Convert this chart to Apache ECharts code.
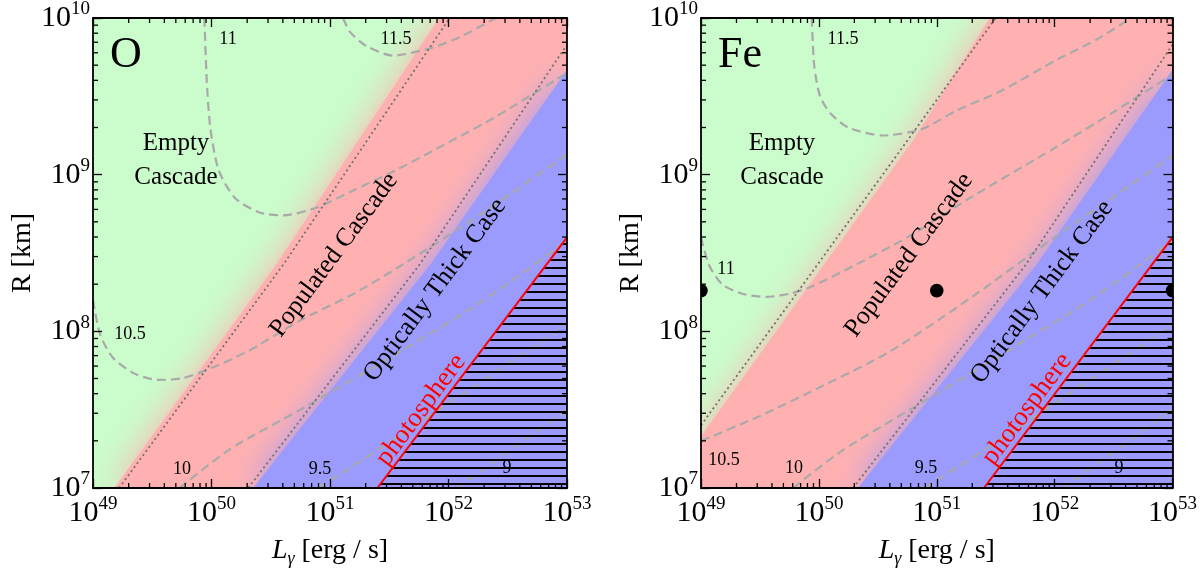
<!DOCTYPE html>
<html>
<head>
<meta charset="utf-8">
<script src="https://cdn.jsdelivr.net/npm/echarts@6/dist/echarts.min.js"></script>
<style>
html, body { margin: 0; padding: 0; background: #fff; }
#chart { width: 1200px; height: 573px; }
</style>
</head>
<body>
<div id="chart"></div>
<script>
// all positions are log10 values: x = log10(L / erg s^-1), y = log10(R / km)
var xDecades = [49, 50, 51, 52, 53];
var yDecades = [7, 8, 9, 10];
var panelNames = ['O', 'Fe'];

// ---- O panel ----
var oGreenRed = [[49.18, 7], [50.55, 8.43], [51.92, 10], [53, 10]];
var oRedBlue = [[50.35, 7], [51.85, 8.43], [53, 9.67]];
var oDotted1 = [[49.22, 7], [50.61, 8.43], [52.01, 10]];
var oDotted2 = [[50.31, 7], [51.76, 8.43], [53, 9.83]];
var oPhoto = [[51.4, 7], [53, 8.6]];
var oC115 = [[51.11, 10], [51.17, 9.91], [51.31, 9.82], [51.53, 9.76], [51.86, 9.81], [52.1, 9.88], [52.4, 10]];
var oC11 = [[49.94, 10], [49.96, 9.6], [49.99, 9.3], [50.06, 9.03], [50.2, 8.85], [50.4, 8.76], [50.6, 8.74], [50.89, 8.79], [51.17, 8.89], [51.56, 9.03], [52.01, 9.21], [52.4, 9.37], [53, 9.65]];
var oC105 = [[49.0, 8.2], [49.06, 7.98], [49.17, 7.83], [49.35, 7.73], [49.55, 7.69], [49.75, 7.7], [49.95, 7.75], [50.3, 7.87], [50.75, 8.07], [51.2, 8.24], [51.6, 8.42], [52.3, 8.76], [53, 9.13]];
var oC10 = [[49.73, 7], [50.16, 7.25], [50.75, 7.5], [51.59, 7.87], [52.32, 8.21], [53, 8.58]];
var oC95 = [[50.9, 7], [51.5, 7.29], [52.2, 7.64], [53, 8.04]];
var oC9 = [[52.07, 7], [52.5, 7.23], [53, 7.5]];

// ---- Fe panel ----
var feGreenRed = [[49, 7.33], [50.8, 9.22], [51.45, 10], [53, 10]];
var feRedBlue = [[50.33, 7], [51.85, 8.43], [53, 9.67]];
var feDotted1 = [[49, 7.4], [50.83, 9.3], [51.5, 10]];
var feDotted2 = [[50.29, 7], [51.76, 8.43], [53, 9.83]];
var fePhoto = [[51.4, 7], [53, 8.6]];
var feC115 = [[49.94, 10], [49.96, 9.7], [50.01, 9.5], [50.1, 9.39], [50.25, 9.3], [50.54, 9.25], [50.87, 9.29], [51.17, 9.41], [51.56, 9.54], [52.01, 9.73], [52.35, 9.86], [52.65, 10]];
var feC11 = [[49, 8.6], [49.07, 8.42], [49.18, 8.3], [49.35, 8.24], [49.55, 8.22], [49.75, 8.24], [49.95, 8.29], [50.3, 8.42], [50.75, 8.6], [51.3, 8.86], [52, 9.17], [52.5, 9.4], [53, 9.64]];
var feC105 = [[49, 7.3], [49.5, 7.46], [50, 7.64], [50.6, 7.87], [51.3, 8.22], [52, 8.6], [52.5, 8.86], [53, 9.12]];
var feC10 = [[49.78, 7], [50.2, 7.24], [50.75, 7.49], [51.59, 7.87], [52.32, 8.21], [53, 8.58]];
var feC95 = [[50.9, 7], [51.5, 7.29], [52.2, 7.64], [53, 8.04]];
var feC9 = [[52.07, 7], [52.5, 7.23], [53, 7.5]];
var feDots = [[49, 8.26], [51, 8.26], [53, 8.26]];

var FONT = 'Liberation Serif';
var GREEN = '#cbfccb', RED = '#ffb1b1', BLUE = '#9b9bfd';

var chart = echarts.init(document.getElementById('chart'));

// horizontal hatch for the region below the photosphere
var hatch = document.createElement('canvas');
hatch.width = 8; hatch.height = 8;
var hctx = hatch.getContext('2d');
hctx.fillStyle = '#000';
hctx.fillRect(0, 3, 8, 2);

// log minor tick positions (2..9 in each decade)
var xMinor = [], yMinor = [];
xDecades.slice(0, -1).forEach(function (n) { for (var k = 2; k < 10; k++) xMinor.push(n + Math.log10(k)); });
yDecades.slice(0, -1).forEach(function (n) { for (var k = 2; k < 10; k++) yMinor.push(n + Math.log10(k)); });
var xLo = xDecades[0], xHi = xDecades[xDecades.length - 1];
var yLo = yDecades[0], yHi = yDecades[yDecades.length - 1];

var tickRich = {
    b: { fontFamily: FONT, fontSize: 30, lineHeight: 36, color: '#000', verticalAlign: 'middle' },
    s: { fontFamily: FONT, fontSize: 19, lineHeight: 18, color: '#000', verticalAlign: 'top' }
};

function axis(dim, g, pos, labels) {
    var isX = dim === 'x';
    var ax = {
        gridIndex: g, type: 'value', position: pos,
        min: isX ? xLo : yLo, max: isX ? xHi : yHi,
        interval: 1, z: 10,
        splitLine: { show: false },
        axisLine: { show: true, onZero: false, lineStyle: { color: '#000', width: 1.8 } },
        axisTick: { inside: true, length: 9, lineStyle: { color: '#000', width: 1.3 } },
        axisLabel: { show: false }
    };
    if (labels) {
        ax.axisLabel = {
            show: true, margin: isX ? 7 : 3, showMinLabel: true, showMaxLabel: true,
            formatter: function (v) { return '{b|10}{s|' + Math.round(v) + '}'; },
            rich: tickRich
        };
        ax.nameLocation = 'middle';
        if (isX) {
            ax.name = '{i|L}{g|γ}{n| [erg / s]}';
            ax.nameGap = 46;
            ax.nameTextStyle = {
                fontFamily: FONT, fontSize: 28, color: '#000', lineHeight: 34,
                rich: {
                    i: { fontFamily: FONT, fontSize: 28, fontStyle: 'italic', lineHeight: 34, verticalAlign: 'middle' },
                    g: { fontFamily: FONT, fontSize: 18, fontStyle: 'italic', lineHeight: 18, verticalAlign: 'bottom' },
                    n: { fontFamily: FONT, fontSize: 28, lineHeight: 34, verticalAlign: 'middle' }
                }
            };
        } else {
            ax.name = 'R [km]';
            ax.nameGap = 56;
            ax.nameTextStyle = { fontFamily: FONT, fontSize: 28, color: '#000' };
        }
    }
    return ax;
}

// per grid: bottom + top x axes, left + right y axes
var xAxes = [], yAxes = [];
[0, 1].forEach(function (g) {
    xAxes.push(axis('x', g, 'bottom', true), axis('x', g, 'top', false));
    yAxes.push(axis('y', g, 'left', true), axis('y', g, 'right', false));
});

function area(g, data, color) {
    return {
        type: 'line', xAxisIndex: 2 * g, yAxisIndex: 2 * g, data: data, symbol: 'none', z: 1,
        lineStyle: { width: 0 },
        areaStyle: { color: color, opacity: 1, origin: 'start', shadowBlur: 32, shadowColor: color }
    };
}
function dashed(g, data) {
    return {
        type: 'line', xAxisIndex: 2 * g, yAxisIndex: 2 * g, data: data, symbol: 'none', z: 3,
        smooth: 0.25,
        lineStyle: { color: '#a9a9a9', width: 2.2, type: [9, 5] }
    };
}
function dotted(g, data) {
    return {
        type: 'line', xAxisIndex: 2 * g, yAxisIndex: 2 * g, data: data, symbol: 'none', z: 3,
        lineStyle: { color: '#707070', width: 1.8, type: [2, 3] }
    };
}
function photo(g, data) {
    return {
        type: 'line', xAxisIndex: 2 * g, yAxisIndex: 2 * g, data: data, symbol: 'none', z: 4,
        lineStyle: { color: '#ff0000', width: 2 },
        areaStyle: { color: { image: hatch, repeat: 'repeat' }, opacity: 1, origin: 'start' }
    };
}

var series = [
    area(0, oGreenRed, RED), area(0, oRedBlue, BLUE), photo(0, oPhoto),
    dashed(0, oC115), dashed(0, oC11), dashed(0, oC105), dashed(0, oC10), dashed(0, oC95), dashed(0, oC9),
    dotted(0, oDotted1), dotted(0, oDotted2),
    area(1, feGreenRed, RED), area(1, feRedBlue, BLUE), photo(1, fePhoto),
    dashed(1, feC115), dashed(1, feC11), dashed(1, feC105), dashed(1, feC10), dashed(1, feC95), dashed(1, feC9),
    dotted(1, feDotted1), dotted(1, feDotted2),
    {
        type: 'custom', xAxisIndex: 2, yAxisIndex: 2, data: feDots, clip: true, z: 6,
        renderItem: function (params, api) {
            var p = api.coord([api.value(0), api.value(1)]);
            return { type: 'circle', shape: { cx: p[0], cy: p[1], r: 6.8 }, style: { fill: '#000' } };
        }
    }
];

// annotations: [text, x px, y px, font size, rotation deg, colour]
var notes = [
    [panelNames[0], 126, 55, 44, 0, '#000'], [panelNames[1], 740, 55, 44, 0, '#000'],
    ['Empty', 176, 143, 25, 0, '#000'], ['Cascade', 176, 177, 25, 0, '#000'],
    ['Empty', 782, 143, 25, 0, '#000'], ['Cascade', 782, 177, 25, 0, '#000'],
    ['Populated Cascade', 334, 255, 26, 53.4, '#000'], ['Populated Cascade', 909, 255, 26, 53.4, '#000'],
    ['Optically Thick Case', 435, 290, 26, 53.4, '#000'], ['Optically Thick Case', 1042, 292, 26, 53.4, '#000'],
    ['photosphere', 421, 410, 27, 53.4, '#ff0000'], ['photosphere', 1027, 409, 27, 53.4, '#ff0000'],
    ['11', 228, 39, 18, 0, '#000'], ['11.5', 396, 39, 18, 0, '#000'], ['10.5', 130, 334, 18, 0, '#000'],
    ['10', 182, 469, 18, 0, '#000'], ['9.5', 320, 469, 18, 0, '#000'], ['9', 507, 468, 18, 0, '#000'],
    ['11.5', 843, 39, 18, 0, '#000'], ['11', 726, 269, 18, 0, '#000'], ['10.5', 724, 460, 18, 0, '#000'],
    ['10', 794, 468, 18, 0, '#000'], ['9.5', 926, 468, 18, 0, '#000'], ['9', 1119, 468, 18, 0, '#000']
];

chart.setOption({
    animation: false,
    backgroundColor: '#fff',
    grid: [
        { left: 93, top: 18, width: 474, height: 472, show: true, backgroundColor: GREEN, borderWidth: 0 },
        { left: 701, top: 18, width: 472, height: 472, show: true, backgroundColor: GREEN, borderWidth: 0 }
    ],
    xAxis: xAxes,
    yAxis: yAxes,
    series: series
});

// text annotations
var els = notes.map(function (n) {
    return {
        type: 'text', x: n[1], y: n[2], rotation: n[4] * Math.PI / 180, z: 20, silent: true,
        style: {
            text: n[0], fill: n[5], font: n[3] + 'px "' + FONT + '"',
            align: 'center', verticalAlign: 'middle', textAlign: 'center', textVerticalAlign: 'middle'
        }
    };
});

// minor log ticks on all four sides, positioned through the axes
function tick(x1, y1, x2, y2) {
    return { type: 'line', z: 19, silent: true, shape: { x1: x1, y1: y1, x2: x2, y2: y2 },
             style: { stroke: '#000', lineWidth: 1.3 } };
}
[0, 1].forEach(function (g) {
    var finder = { xAxisIndex: 2 * g, yAxisIndex: 2 * g };
    xMinor.forEach(function (v) {
        var b = chart.convertToPixel(finder, [v, yLo]);
        var t = chart.convertToPixel(finder, [v, yHi]);
        els.push(tick(b[0], b[1], b[0], b[1] - 5), tick(t[0], t[1], t[0], t[1] + 5));
    });
    yMinor.forEach(function (v) {
        var l = chart.convertToPixel(finder, [xLo, v]);
        var r = chart.convertToPixel(finder, [xHi, v]);
        els.push(tick(l[0], l[1], l[0] + 5, l[1]), tick(r[0], r[1], r[0] - 5, r[1]));
    });
});

chart.setOption({ graphic: els });
</script>
</body>
</html>
